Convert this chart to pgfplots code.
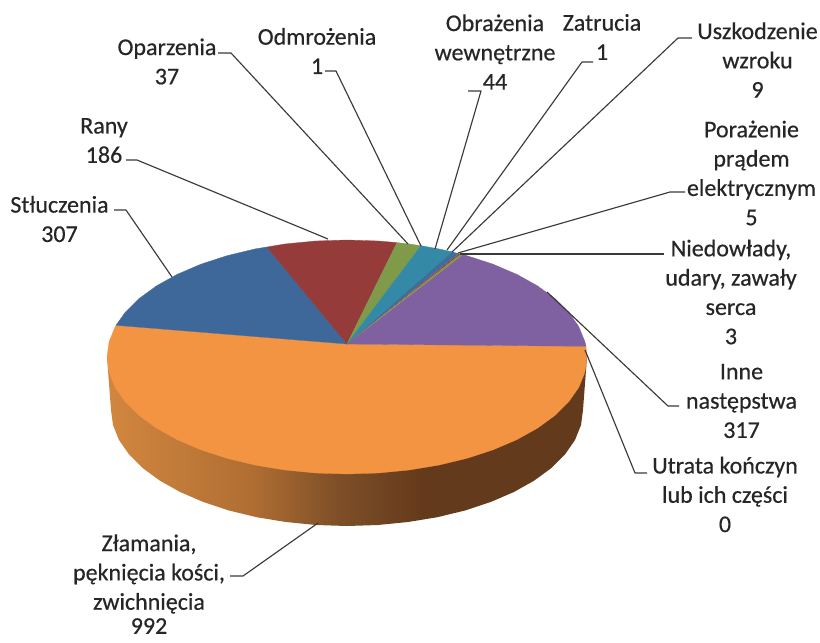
\documentclass[border=0pt]{standalone}
\usepackage{fontspec}
\setmainfont{Carlito}[FakeBold=0.45]
\usepackage{pgfplots}
\pgfplotsset{compat=1.18}
\definecolor{cOrange}{HTML}{F39443}
\definecolor{cPurple}{HTML}{7F60A0}
\definecolor{cBlue}{HTML}{3F689A}
\definecolor{cRed}{HTML}{953C3A}
\definecolor{cGreen}{HTML}{7F9A48}
\definecolor{cTeal}{HTML}{348AA6}
\definecolor{cLine}{HTML}{3A3A3A}
\definecolor{wa}{HTML}{D2873F}
\definecolor{wb}{HTML}{B06E33}
\definecolor{wc}{HTML}{7E4F27}
\definecolor{wd}{HTML}{643A1C}
\pgfdeclarehorizontalshading{wallshade}{100bp}{color(0bp)=(wa); color(25bp)=(wa); color(40bp)=(wb); color(49bp)=(wc); color(58bp)=(wd); color(100bp)=(wd)}
\newcommand{\lab}[3]{\node[align=center,text=black!85,inner sep=0pt] at (axis cs:#1,#2) {#3};}
\begin{document}
\begin{tikzpicture}
\begin{axis}[
  width=820bp,height=642bp,scale only axis,
  xmin=0,xmax=820,ymin=0,ymax=642,y dir=reverse,
  hide axis,clip=false,
  every axis plot/.append style={line join=round},
]
\path[use as bounding box] (axis cs:0,0) rectangle (axis cs:820,642);
% side wall
\addplot[draw=none,shading=wallshade] coordinates {
(107,357)(111,410)(113,425.1)(119,440)(129,454.4)(142.6,468)(159.8,480.6)(180.1,492)(203.3,502)(229,510.5)(256.7,517.2)(285.9,522)(316.2,525)(347,526)
(377.8,525)(408.1,522)(437.3,517.2)(465,510.5)(490.7,502)(513.9,492)(534.2,480.6)(551.4,468)(565,454.4)(575,440)(581,425.1)(583,410)(587,357)(347,357)} -- cycle;
% top face: orange
\addplot[fill=cOrange,draw=cOrange,line width=0.3pt] coordinates {
(347,344)(586,346.3)(587,357)(584.9,372.3)(578.8,387.3)(568.7,401.8)(554.8,415.5)(537.4,428.2)(516.7,439.7)(493.1,449.8)(467,458.3)(438.8,465.1)(409.1,470)(378.3,473)(347,474)
(315.7,473)(284.9,470)(255.2,465.1)(227,458.3)(200.9,449.8)(177.3,439.7)(156.6,428.2)(139.2,415.5)(125.3,401.8)(115.2,387.3)(109.1,372.3)(107,357)(109.1,341.7)(115.2,326.7)(116,325.3)} -- cycle;
% purple
\addplot[fill=cPurple,draw=cPurple,line width=0.3pt] coordinates {
(347,344)(463,254.6)(467,255.7)(493.1,264.2)(516.7,274.3)(537.4,285.8)(554.8,298.5)(568.7,312.2)(578.8,326.7)(584.9,341.7)(586,346.3)} -- cycle;
% blue
\addplot[fill=cBlue,draw=cBlue,line width=0.3pt] coordinates {
(347,344)(116,325.3)(125.3,312.2)(139.2,298.5)(156.6,285.8)(177.3,274.3)(200.9,264.2)(227,255.7)(255.2,248.9)(267,247)} -- cycle;
% red
\addplot[fill=cRed,draw=cRed,line width=0.3pt] coordinates {
(347,344)(267,247)(284.9,244)(315.7,241)(347,240)(378.3,241)(397,242.6)} -- cycle;
% green
\addplot[fill=cGreen,draw=cGreen,line width=0.3pt] coordinates {
(347,344)(397,242.6)(409.1,244)(421,245.7)} -- cycle;
% teal
\addplot[fill=cTeal,draw=cTeal,line width=0.3pt] coordinates {
(347,344)(421,245.7)(438.8,248.9)(452,251.8)} -- cycle;
% thin slices
\addplot[fill=cBlue!80!cTeal,draw=none] coordinates {(347,344)(452,251.8)(459,253.5)} -- cycle;
\addplot[fill=cRed!90!cOrange,draw=none] coordinates {(347,344)(459,253.5)(461,254)} -- cycle;
\addplot[fill=cGreen,draw=none] coordinates {(347,344)(461,254)(463,254.6)} -- cycle;
% leader lines
\pgfplotsset{leader/.style={draw=cLine,line width=1.15pt,no marks}}
\addplot[leader] coordinates {(218,53)(231,53)(408,244)};
\addplot[leader] coordinates {(325,71)(336,71)(421,246)};
\addplot[leader] coordinates {(468,91)(481,91)(435,249)};
\addplot[leader] coordinates {(593,62)(582,62)(447,250)};
\addplot[leader] coordinates {(692,38)(678,38)(452,252)};
\addplot[leader] coordinates {(685,192)(670,192)(458,253)};
\addplot[leader] coordinates {(664,254)(460,254)};
\addplot[leader] coordinates {(679,406)(668,406)(547,292)};
\addplot[leader] coordinates {(647,473)(635,473)(585,350)};
\addplot[leader] coordinates {(230,576)(243,576)(318,523)};
\addplot[leader] coordinates {(126,160)(137,160)(328,239)};
\addplot[leader] coordinates {(114,210)(126,210)(172,277)};
% labels
\fontsize{24bp}{29.3bp}\selectfont
\lab{167}{61.5}{Oparzenia\\37}
\lab{317}{51}{Odmrożenia\\1}
\lab{495}{52}{Obrażenia\\wewnętrzne\\44}
\lab{602}{37}{Zatrucia\\1}
\lab{757.5}{60}{Uszkodzenie\\wzroku\\9}
\lab{751.5}{173}{Porażenie\\prądem\\elektrycznym\\5}
\lab{731}{292}{Niedowłady,\\udary, zawały\\serca\\3}
\lab{741.5}{401}{Inne\\następstwa\\317}
\lab{725}{494.5}{Utrata kończyn\\lub ich części\\0}
\lab{104}{140.5}{Rany\\186}
\lab{59.5}{219}{Stłuczenia\\307}
\lab{149}{574}{Złamania,\\pęknięcia kości,\\zwichnięcia}
\lab{149}{626}{992}
\end{axis}
\end{tikzpicture}
\end{document}
